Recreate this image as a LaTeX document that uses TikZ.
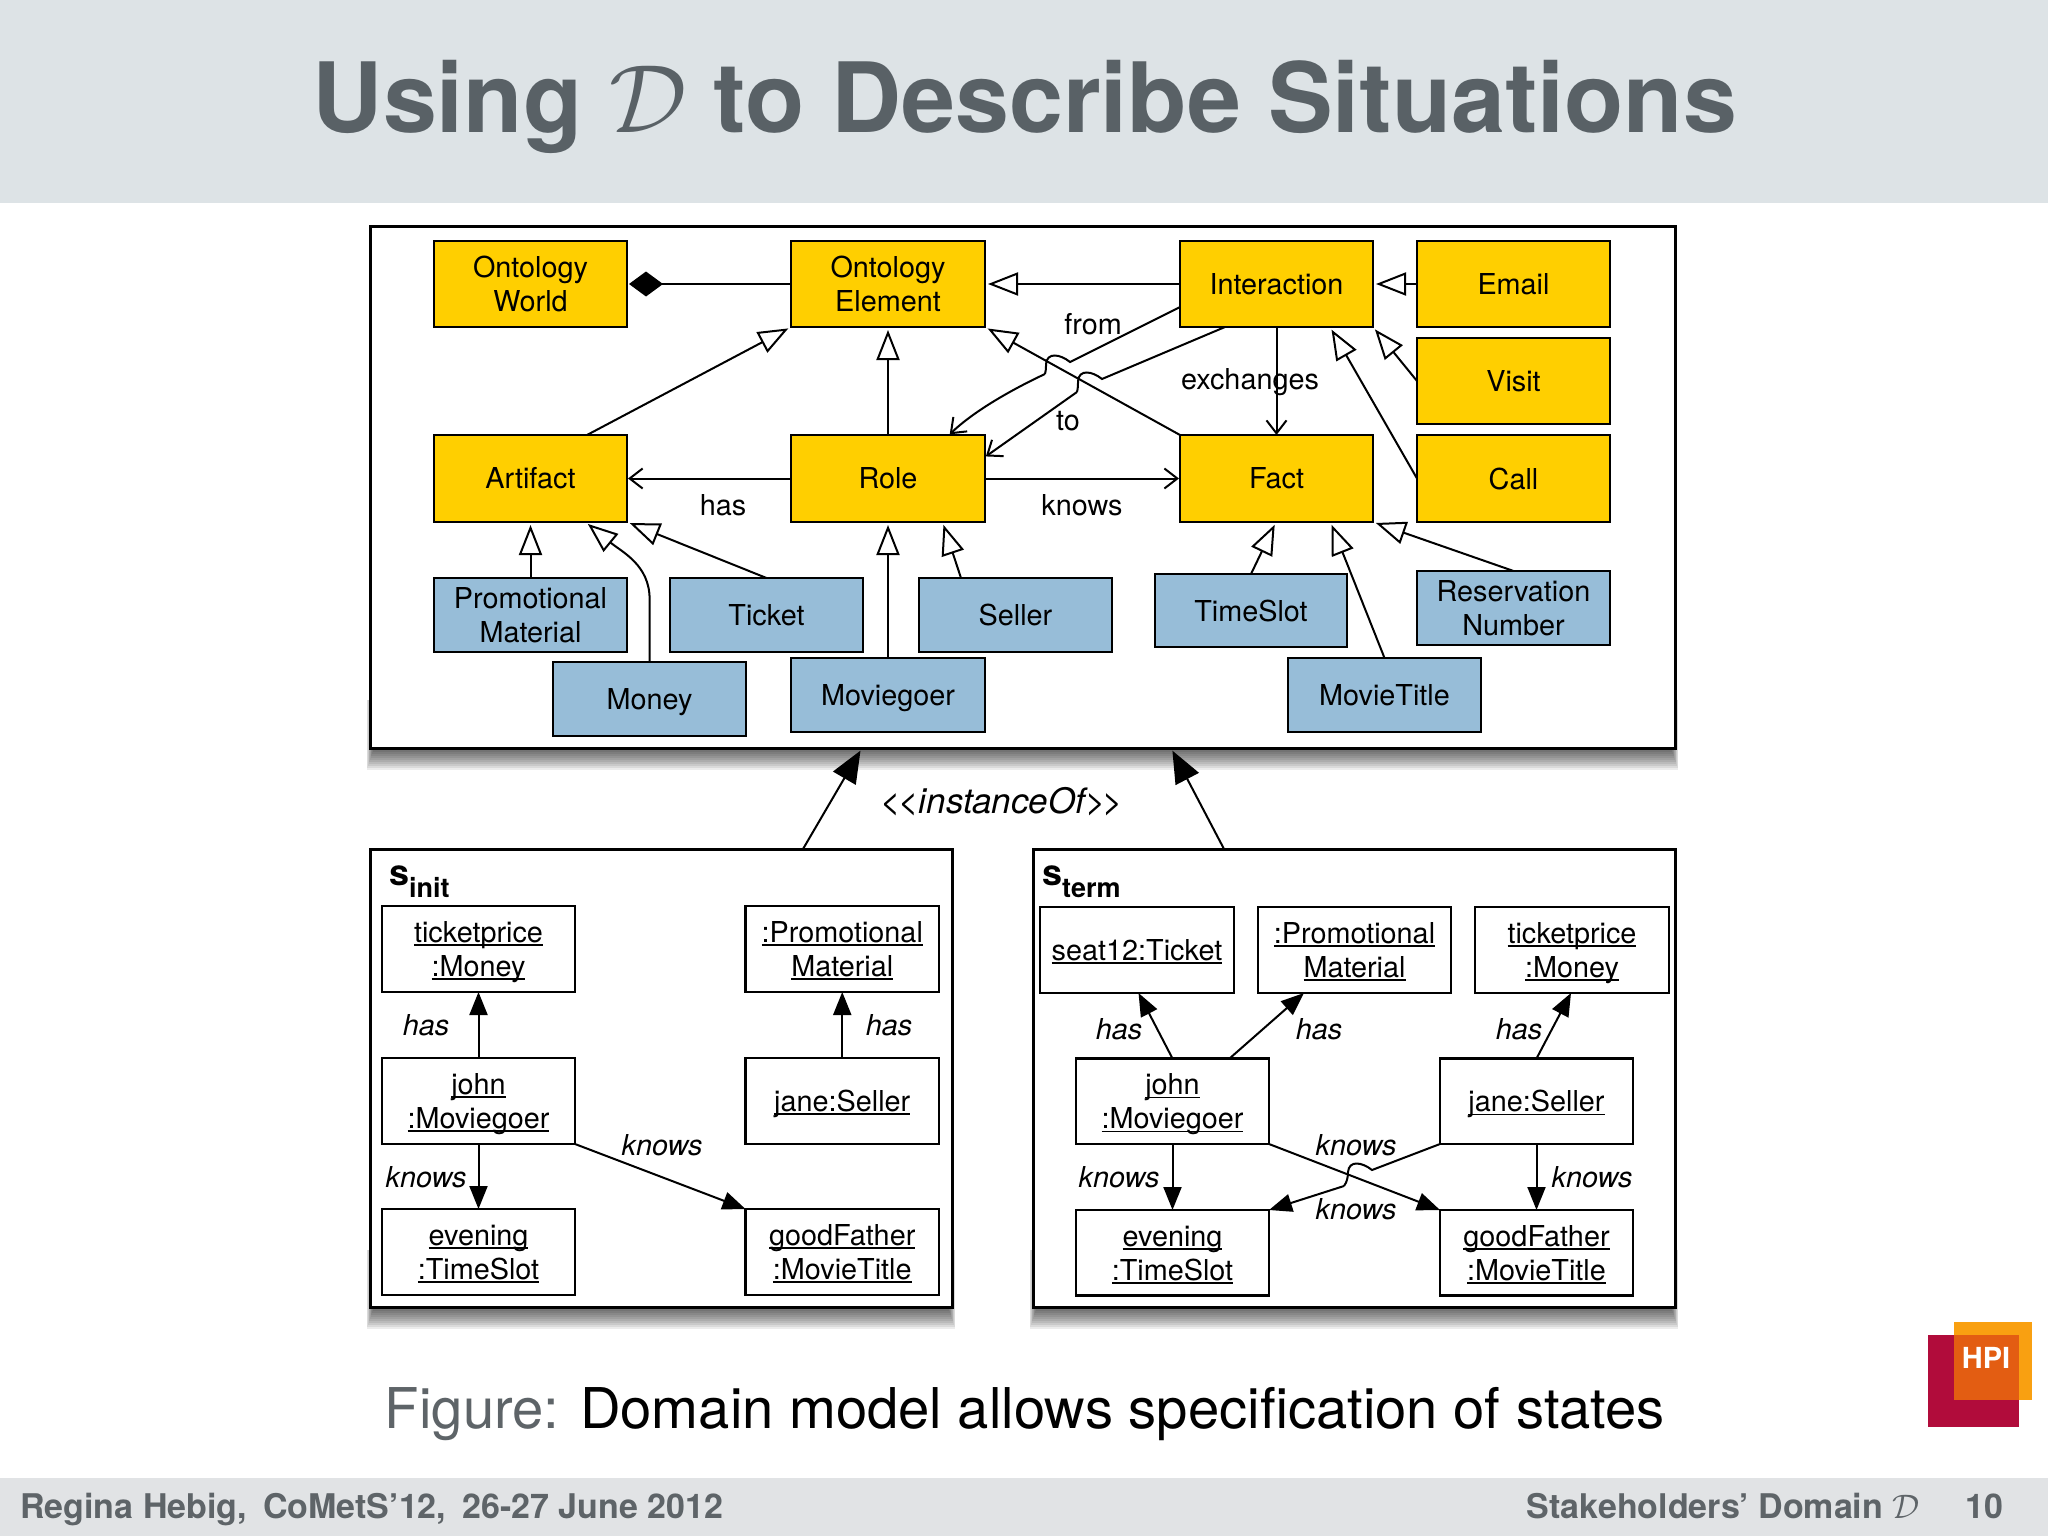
\documentclass[tikz,border=0pt]{standalone}
\usepackage{fix-cm}
\usepackage{fontspec}
\setmainfont{TeX Gyre Heros}
\usetikzlibrary{arrows.meta,calc}
\definecolor{bandT}{HTML}{DDE3E6}
\definecolor{bandB}{HTML}{E1E3E5}
\definecolor{titleG}{HTML}{596166}
\definecolor{footG}{HTML}{5E6468}
\definecolor{boxY}{HTML}{FFCF00}
\definecolor{boxB}{HTML}{97BDD8}
\definecolor{logoR}{HTML}{B10C3B}
\definecolor{logoO}{HTML}{F9A011}
\definecolor{logoM}{HTML}{E35D12}
\newcommand{\flatbox}[1]{\raisebox{0pt}[.72em][0pt]{#1}}
\newcommand{\ulin}[1]{\leavevmode\sbox0{#1}\flatbox{\rlap{\rule[-3.5pt]{\wd0}{1.6pt}}\usebox0}}
\newcommand{\bx}[7]{\node[#6,minimum width={(#4-#2)*1pt},minimum height={(#5-#3)*1pt}] (#1) at ({(#2+#4)/2},{(#3+#5)/2}) {#7};}
\newcommand{\shad}[4]{\foreach \d in {2,4,...,22}{\fill[black,opacity=.075] ({#1+4-\d/3},#2) rectangle ({#3-4+\d/3},{#4+\d});}}
\tikzset{
  bbox/.style={draw=black,line width=2.2pt,inner sep=0pt,outer sep=0pt,align=center,font=\fontsize{28.8}{34}\selectfont},
  yel/.style={bbox,fill=boxY},
  blu/.style={bbox,fill=boxB},
  inst/.style={bbox,fill=white},
  frame/.style={draw=black,line width=3pt,fill=white,inner sep=0pt,outer sep=0pt},
  lab/.style={inner sep=0pt,font=\fontsize{28.8}{34}\selectfont},
  ilab/.style={inner sep=0pt,font=\fontsize{28.8}{34}\selectfont\itshape},
  con/.style={line width=2pt,draw=black},
  gen/.style={con,-{Triangle[length=30pt,width=23pt,fill=white]},shorten >=3pt},
  assoc/.style={con,-{Straight Barb[length=13pt,width=20pt]},shorten >=1pt},
  ref/.style={con,-{Triangle[length=23pt,width=18pt]}},
  inof/.style={con,-{Triangle[length=32pt,width=26pt]},shorten >=3pt},
  comp/.style={con,-{Diamond[length=34pt,width=25pt]},shorten >=2pt},
}
\begin{document}
\begin{tikzpicture}[x=1pt,y=-1pt]
\useasboundingbox (0,0) rectangle (2048,1536);
\fill[white] (0,0) rectangle (2048,1536);
\fill[bandT] (0,0) rectangle (2048,203);
\fill[bandB] (0,1478) rectangle (2048,1536);
\node[inner sep=0pt,text=titleG,font=\fontsize{97}{110}\selectfont\bfseries] (title) at (1025,107) {Using $\mathcal{D}$ to Describe Situations};
% shadows
\shad{370}{700}{1675}{748}
\shad{370}{1250}{952}{1307}
\shad{1033}{1250}{1675}{1307}
% frames
\bx{top}{370}{226}{1675}{748}{frame}{}
\bx{sinit}{370}{849}{952}{1307}{frame}{}
\bx{sterm}{1033}{849}{1675}{1307}{frame}{}
% top boxes
\bx{oworld}{434}{241}{627}{327}{yel}{Ontology\\World}
\bx{oelem}{791}{241}{985}{327}{yel}{Ontology\\Element}
\bx{interaction}{1180}{241}{1373}{327}{yel}{Interaction}
\bx{email}{1417}{241}{1610}{327}{yel}{Email}
\bx{visit}{1417}{338}{1610}{424}{yel}{Visit}
\bx{artifact}{434}{435}{627}{522}{yel}{Artifact}
\bx{role}{791}{435}{985}{522}{yel}{Role}
\bx{fact}{1180}{435}{1373}{522}{yel}{Fact}
\bx{call}{1417}{435}{1610}{522}{yel}{Call}
\bx{promo}{434}{578}{627}{652}{blu}{Promotional\\Material}
\bx{ticket}{670}{578}{863}{652}{blu}{Ticket}
\bx{seller}{919}{578}{1112}{652}{blu}{Seller}
\bx{timeslot}{1155}{574}{1347}{647}{blu}{TimeSlot}
\bx{resnum}{1417}{571}{1610}{645}{blu}{Reservation\\Number}
\bx{money}{553}{662}{746}{736}{blu}{\flatbox{Money}}
\bx{moviegoer}{791}{658}{985}{732}{blu}{\flatbox{Moviegoer}}
\bx{movietitle}{1288}{658}{1481}{732}{blu}{MovieTitle}
% top connectors
\draw[comp] (oelem.west) -- (oworld.east);
\draw[gen] (interaction.west) -- (oelem.east);
\draw[gen] (email.west) -- (interaction.east);
\draw[gen] ([xshift=56.5pt]artifact.north) -- (oelem.south west);
\draw[gen] (role.north) -- (oelem.south);
\draw[gen] (fact.north west) -- (oelem.south east);
\draw[gen] (visit.west) -- (interaction.south east);
\draw[gen] (call.west) -- ([xshift=53.5pt]interaction.south);
\draw[con,-{Straight Barb[length=13pt,width=20pt]}] (interaction.south) -- (fact.north);
\draw[assoc] (role.west) -- (artifact.east);
\draw[assoc] (role.east) -- (fact.west);
\coordinate (ja) at (1070,362);
\coordinate (jb) at (1045,374);
\coordinate (jc) at (1102,379);
\coordinate (jd) at (1077,392);
\draw[con] ([yshift=-23pt]interaction.west) -- (ja) .. controls (1060,354) and (1047,352) .. (1046,364) .. controls (1046,368) and (1046,371) .. (jb);
\draw[assoc] (jb) .. controls (1015,388) and (975,410) .. ([xshift=61pt]role.north);
\draw[con] ([xshift=-51.5pt]interaction.south) -- (jc) .. controls (1092,371) and (1079,369) .. (1078,381) .. controls (1078,385) and (1078,388) .. (jd);
\draw[assoc] (jd) -- ([yshift=21.5pt]role.east);
\draw[gen] (promo.north) -- (artifact.south);
\coordinate (mny) at (649.6,599);
\draw[gen] (money.north) -- (mny) .. controls (649.6,565) and (622,552) .. ([xshift=55pt]artifact.south);
\draw[gen] (ticket.north) -- (artifact.south east);
\draw[gen] (moviegoer.north) -- (role.south);
\draw[gen] ([xshift=-54.5pt]seller.north) -- ([xshift=54.5pt]role.south);
\draw[gen] (timeslot.north) -- ([xshift=-0.5pt]fact.south);
\draw[gen] (movietitle.north) -- ([xshift=54pt]fact.south);
\draw[gen] (resnum.north) -- (fact.south east);
% top labels
\node[lab] (lfrom) at (1093,324) {from};
\node[lab] (lexch) at (1250,382) {exchanges};
\node[lab] (lto) at (1068,421) {to};
\node[lab] (lhas) at (723,505) {has};
\node[lab] (lknows) at (1082,505) {knows};
% instanceOf
\draw[inof] ([xshift=142pt]sinit.north) -- ([xshift=-160.5pt]top.south);
\draw[inof] ([xshift=-130pt]sterm.north) -- ([xshift=148.5pt]top.south);
\node[inner sep=0pt,font=\fontsize{35}{38}\selectfont\itshape] (linst) at (1002,802) {{<}\kern-3pt{<}instanceOf{>}\kern-3pt{>}};
% s_init
\node[inner sep=0pt,anchor=base west,font=\fontsize{36}{40}\selectfont\bfseries] (tinit) at (389,885) {s\raisebox{-12pt}{\fontsize{27}{30}\selectfont init}};
\bx{itp}{382}{906}{575}{992}{inst}{\ulin{ticketprice}\\\ulin{:Money}}
\bx{ipm}{745.5}{906}{939}{992}{inst}{\ulin{:Promotional}\\\ulin{Material}}
\bx{ijohn}{382}{1058}{575}{1144}{inst}{\ulin{john}\\\ulin{:Moviegoer}}
\bx{ijane}{745.5}{1058}{939}{1144}{inst}{\ulin{jane:Seller}}
\bx{ieve}{382}{1209}{575}{1295}{inst}{\ulin{evening}\\\ulin{:TimeSlot}}
\bx{igood}{745.5}{1209}{939}{1295}{inst}{\ulin{goodFather}\\\ulin{:MovieTitle}}
\draw[ref] (ijohn.north) -- (itp.south);
\draw[ref] (ijane.north) -- (ipm.south);
\draw[ref] (ijohn.south) -- (ieve.north);
\draw[ref] (ijohn.south east) -- (igood.north west);
\node[ilab] (il1) at (426,1025) {has};
\node[ilab] (il2) at (889,1025) {has};
\node[ilab] (il3) at (426,1177) {knows};
\node[ilab] (il4) at (662,1145) {knows};
% s_term
\node[inner sep=0pt,anchor=base west,font=\fontsize{36}{40}\selectfont\bfseries] (tterm) at (1042,885) {s\raisebox{-12pt}{\fontsize{27}{30}\selectfont term}};
\bx{tseat}{1040}{907}{1234}{993}{inst}{\ulin{seat12:Ticket}}
\bx{tpm}{1258}{907}{1451}{993}{inst}{\ulin{:Promotional}\\\ulin{Material}}
\bx{ttp}{1475}{907}{1669}{993}{inst}{\ulin{ticketprice}\\\ulin{:Money}}
\bx{tjohn}{1076}{1058.5}{1269}{1144}{inst}{\ulin{john}\\\ulin{:Moviegoer}}
\bx{tjane}{1440}{1058.5}{1633}{1144}{inst}{\ulin{jane:Seller}}
\bx{teve}{1076}{1210}{1269}{1295.5}{inst}{\ulin{evening}\\\ulin{:TimeSlot}}
\bx{tgood}{1440}{1210}{1633}{1295.5}{inst}{\ulin{goodFather}\\\ulin{:MovieTitle}}
\draw[ref] (tjohn.north) -- ([xshift=1.5pt]tseat.south);
\draw[ref] ([xshift=57pt]tjohn.north) -- ([xshift=46pt]tpm.south west);
\draw[ref] (tjane.north) -- ([xshift=-1pt]ttp.south);
\draw[ref] (tjohn.south) -- (teve.north);
\draw[ref] (tjane.south) -- (tgood.north);
\draw[ref] (tjohn.south east) -- (tgood.north west);
\coordinate (jf) at (1372,1170);
\coordinate (jg) at (1344,1186);
\draw[con] (tjane.south west) -- (jf) .. controls (1362,1162) and (1349,1160) .. (1348,1172) .. controls (1348,1177) and (1347,1182) .. (jg);
\draw[ref] (jg) -- (teve.north east);
\node[ilab] (tl1) at (1119,1029) {has};
\node[ilab] (tl2) at (1319,1029) {has};
\node[ilab] (tl3) at (1519,1029) {has};
\node[ilab] (tl4) at (1119,1177) {knows};
\node[ilab] (tl5) at (1592,1177) {knows};
\node[ilab] (tl6) at (1356,1145) {knows};
\node[ilab] (tl7) at (1356,1209) {knows};
% caption
\node[inner sep=0pt,font=\fontsize{56.2}{62}\selectfont] (caption) at (1025,1414) {\textcolor{footG}{Figure:} Domain model allows specification of states};
% logo
\fill[logoR] (1928,1335) rectangle (2019,1427);
\fill[logoO] (1954,1322) rectangle (2032,1400);
\fill[logoM] (1954,1335) rectangle (2019,1400);
\node[inner sep=0pt,text=white,font=\fontsize{29}{32}\selectfont\bfseries] (hpi) at (1986,1358) {HPI};
% footer
\node[inner sep=0pt,anchor=base west,text=footG,font=\fontsize{34}{38}\selectfont\bfseries] (fl) at (20,1518) {Regina Hebig,\hspace{0.2em} CoMetS’12,\hspace{0.2em} 26-27 June 2012};
\node[inner sep=0pt,anchor=base east,text=footG,font=\fontsize{34}{38}\selectfont\bfseries] (fr) at (1920,1518) {Stakeholders’ Domain $\mathcal{D}$};
\node[inner sep=0pt,anchor=base,text=footG,font=\fontsize{34}{38}\selectfont\bfseries] (fn) at (1984,1518) {10};
\end{tikzpicture}
\end{document}
